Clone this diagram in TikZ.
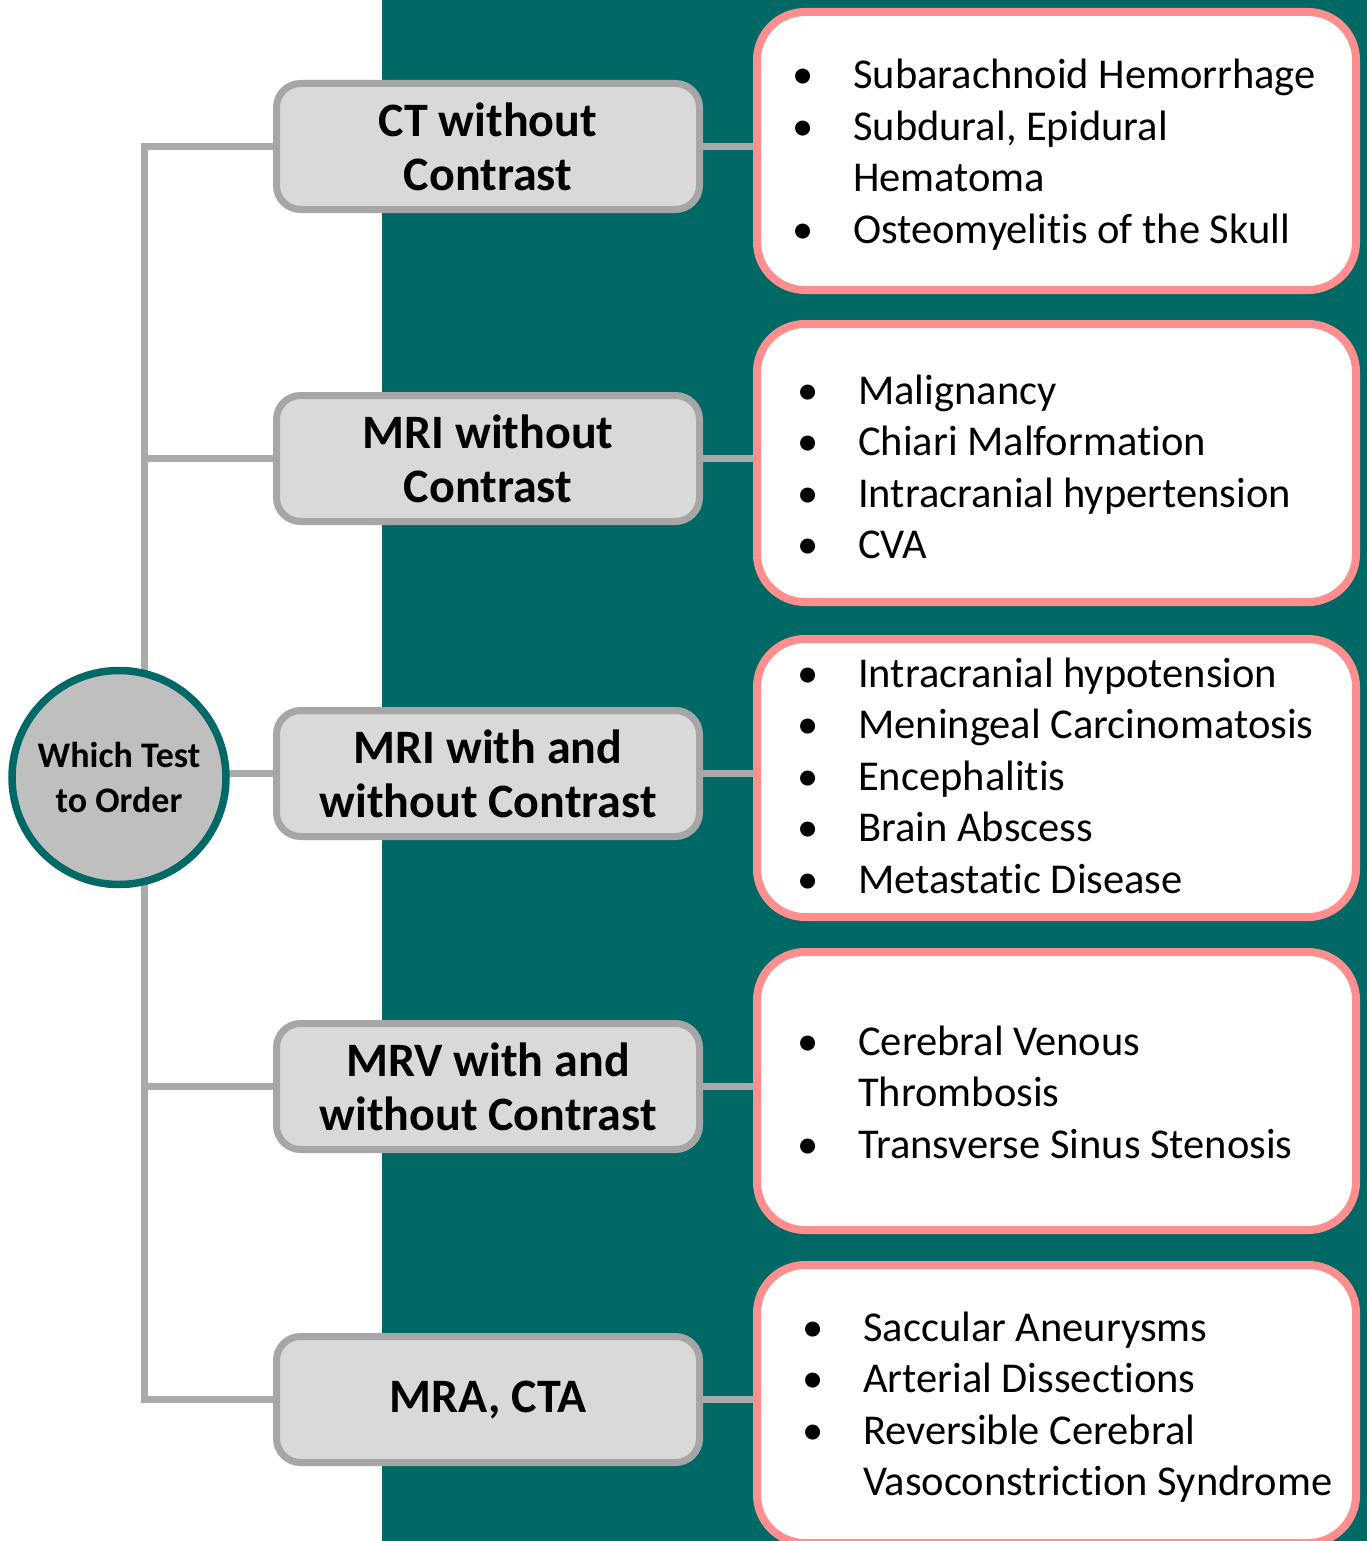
\documentclass[tikz,border=0pt]{standalone}
\usepackage{fontspec}
\setmainfont[Ligatures=NoCommon]{Carlito}
\definecolor{tealbg}{RGB}{0,104,101}
\definecolor{boxline}{RGB}{166,166,166}
\definecolor{boxfill}{RGB}{217,217,217}
\definecolor{rootfill}{RGB}{191,191,191}
\definecolor{pinkline}{RGB}{255,143,143}
\definecolor{connline}{RGB}{170,170,170}
\pgfdeclarelayer{backlayer}
\pgfdeclarelayer{linelayer}
\pgfsetlayers{backlayer,linelayer,main}
\newcommand\dxitem[1]{\makebox[61pt][l]{\textbullet}#1}
\newcommand\dxcont[1]{\hspace*{61pt}#1}
\begin{document}
\begin{tikzpicture}[x=1pt,y=-1pt,
  testbox/.style={draw=boxline, fill=boxfill, line width=7pt, rounded corners=24pt,
    minimum width=423pt, minimum height=126pt, inner sep=0pt, align=center,
    font={\fontsize{48}{54}\selectfont\bfseries}},
  dxbox/.style={draw=pinkline, fill=white, line width=8pt, rounded corners=48pt,
    minimum width=599pt, minimum height=278pt, inner sep=0pt},
  rootnode/.style={circle, draw=tealbg, fill=rootfill, line width=7.5pt,
    minimum size=214pt, inner sep=0pt, align=center,
    font={\fontsize{36}{45}\selectfont\bfseries}},
  conn/.style={draw=connline, line width=7pt},
  listtext/.style={anchor=base west, inner sep=0pt, font={\fontsize{42.5}{51.5}\selectfont}}
]
\useasboundingbox (0,0) rectangle (1367,1541);
\begin{pgfonlayer}{backlayer}
\fill[tealbg] (382,0) rectangle (1367,1541);
\end{pgfonlayer}

\node[rootnode] (root) at (119,777.5) {Which Test\\to Order};

\node[testbox] (b1) at (488,146.5) {CT without\\Contrast};
\node[testbox] (b2) at (488,458.5) {MRI without\\Contrast};
\node[testbox] (b3) at (488,773.5) {MRI with and\\without Contrast};
\node[testbox] (b4) at (488,1086.5) {MRV with and\\without Contrast};
\node[testbox] (b5) at (488,1399.5) {MRA, CTA};

\node[dxbox] (p1) at (1056.5,151) {};
\node[dxbox] (p2) at (1056.5,463) {};
\node[dxbox] (p3) at (1056.5,778) {};
\node[dxbox] (p4) at (1056.5,1091) {};
\node[dxbox] (p5) at (1056.5,1404) {};

\node[listtext] (l1) at (792,89) {\begin{tabular}[t]{@{}l@{}}
\dxitem{Subarachnoid Hemorrhage}\\
\dxitem{Subdural, Epidural}\\
\dxcont{Hematoma}\\
\dxitem{Osteomyelitis of the Skull}
\end{tabular}};
\node[listtext] (l2) at (797,404) {\begin{tabular}[t]{@{}l@{}}
\dxitem{Malignancy}\\
\dxitem{Chiari Malformation}\\
\dxitem{Intracranial hypertension}\\
\dxitem{CVA}
\end{tabular}};
\node[listtext] (l3) at (797,687) {\begin{tabular}[t]{@{}l@{}}
\dxitem{Intracranial hypotension}\\
\dxitem{Meningeal Carcinomatosis}\\
\dxitem{Encephalitis}\\
\dxitem{Brain Abscess}\\
\dxitem{Metastatic Disease}
\end{tabular}};
\node[listtext] (l4) at (797,1055) {\begin{tabular}[t]{@{}l@{}}
\dxitem{Cerebral Venous}\\
\dxcont{Thrombosis}\\
\dxitem{Transverse Sinus Stenosis}
\end{tabular}};
\node[listtext] (l5) at (802,1341) {\begin{tabular}[t]{@{}l@{}}
\dxitem{Saccular Aneurysms}\\
\dxitem{Arterial Dissections}\\
\dxitem{Reversible Cerebral}\\
\dxcont{Vasoconstriction Syndrome}
\end{tabular}};

\coordinate (trunk) at (144,0);
\begin{pgfonlayer}{linelayer}
\draw[conn] (b1.west) -- (b1.west -| trunk) -- (b5.west -| trunk) -- (b5.west);
\draw[conn] (b2.west) -- (b2.west -| trunk);
\draw[conn] (b4.west) -- (b4.west -| trunk);
\draw[conn] (b3.west) -- (b3.west -| root.center);
\draw[conn] (b1.east) -- (b1.east -| p1.west);
\draw[conn] (b2.east) -- (b2.east -| p2.west);
\draw[conn] (b3.east) -- (b3.east -| p3.west);
\draw[conn] (b4.east) -- (b4.east -| p4.west);
\draw[conn] (b5.east) -- (b5.east -| p5.west);
\end{pgfonlayer}
\end{tikzpicture}
\end{document}
